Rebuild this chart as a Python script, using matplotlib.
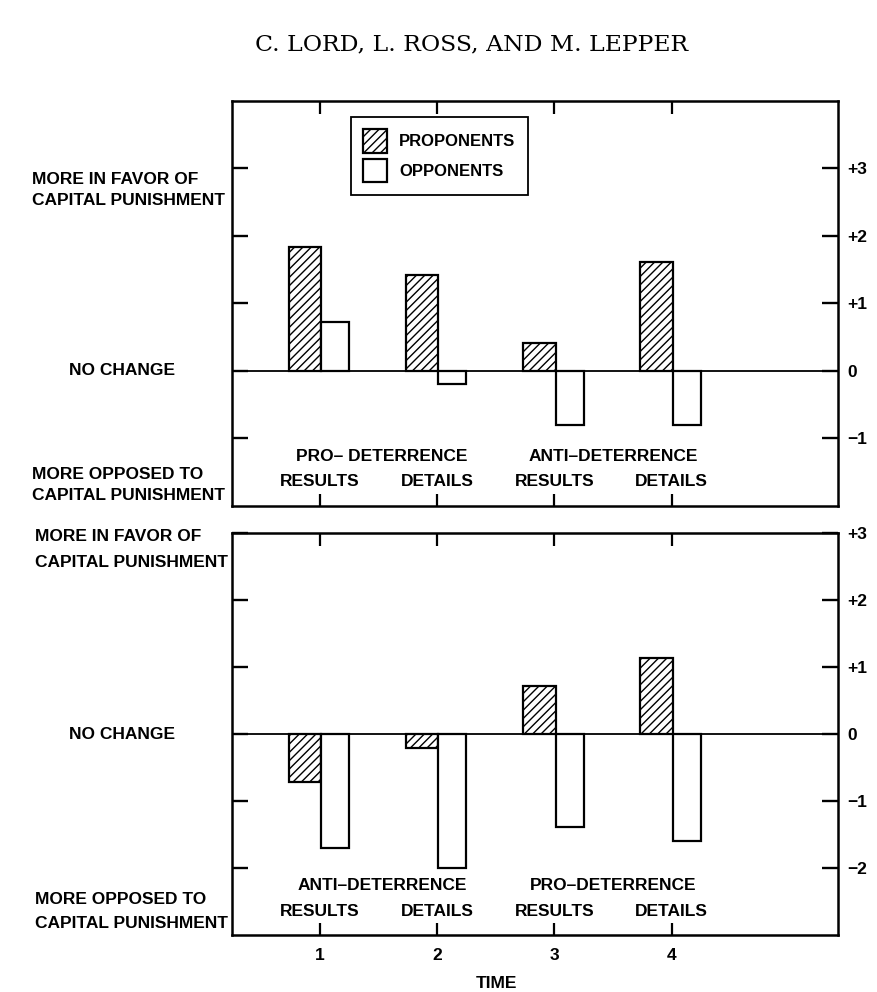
import matplotlib
matplotlib.use("Agg")
import matplotlib.pyplot as plt
import matplotlib.transforms as mtransforms
import numpy as np

plt.rcParams['font.family'] = ['Liberation Sans', 'DejaVu Sans']
plt.rcParams['font.weight'] = 'bold'
plt.rcParams['hatch.linewidth'] = 1.0

# data (attitude change, scale units)
time = [1, 2, 3, 4]
top_proponents = [1.83, 1.42, 0.41, 1.61]
top_opponents = [0.73, -0.20, -0.80, -0.80]
bottom_proponents = [-0.72, -0.21, 0.72, 1.13]
bottom_opponents = [-1.70, -2.00, -1.39, -1.59]

top_yticks = [-1, 0, 1, 2, 3]
bottom_yticks = [-2, -1, 0, 1, 2, 3]
top_groups = ["PRO\u2013 DETERRENCE", "ANTI\u2013DETERRENCE"]
bottom_groups = ["ANTI\u2013DETERRENCE", "PRO\u2013DETERRENCE"]
stage_labels = ["RESULTS", "DETAILS", "RESULTS", "DETAILS"]


def fmt(v):
    if v > 0:
        return "+%d" % v
    if v < 0:
        return "\u2212%d" % abs(v)
    return "0"


W, H = 878, 992
fig = plt.figure(figsize=(W / 100, H / 100), dpi=100)

ax1 = fig.add_axes([232 / W, 1 - 506 / H, (838 - 232) / W, (506 - 100.7) / H])
ax2 = fig.add_axes([232 / W, 1 - 935 / H, (838 - 232) / W, (935 - 533.3) / H])

x = np.array(time)
bw_p, bw_o = 0.275, 0.24


def draw_panel(ax, prop, opp, ylim, yticks, groups, grp_y, stage_y):
    ax.bar(x - 0.265, prop, width=bw_p, align='edge', facecolor='white',
           edgecolor='black', linewidth=1.6, hatch='////', label='PROPONENTS')
    ax.bar(x + 0.01, opp, width=bw_o, align='edge', facecolor='white',
           edgecolor='black', linewidth=1.6, label='OPPONENTS')
    ax.axhline(0, color='black', lw=1.3, zorder=0.5)
    ax.set_xlim(0.25, 5.42)
    ax.set_ylim(*ylim)
    ax.set_xticks(time)
    ax.set_yticks(yticks)
    ax.set_yticklabels([fmt(v) for v in yticks])
    for s in ax.spines.values():
        s.set_linewidth(1.8)
    ax.tick_params(axis='y', direction='in', left=True, right=True,
                   labelleft=False, labelright=True, length=11.5, width=1.7,
                   labelsize=12.5, pad=7)
    ax.tick_params(axis='x', direction='in', top=True, bottom=True,
                   length=9, width=1.6, labelsize=12.5, pad=9)
    ax.text(1.53, grp_y, groups[0], ha='center', va='center', fontsize=12.5)
    ax.text(3.5, grp_y, groups[1], ha='center', va='center', fontsize=12.5)
    for t, lab in zip(time, stage_labels):
        ax.text(t, stage_y, lab, ha='center', va='center', fontsize=12.5)
    # x in figure coords, y in data coords for the side descriptions
    return mtransforms.blended_transform_factory(fig.transFigure, ax.transData)


tr1 = draw_panel(ax1, top_proponents, top_opponents, (-2, 4), top_yticks,
                 top_groups, -1.26, -1.64)
ax1.tick_params(axis='x', labelbottom=False)
ax1.text(32 / W, 2.68, "MORE IN FAVOR OF\nCAPITAL PUNISHMENT", transform=tr1,
         ha='left', va='center', fontsize=12.5, linespacing=1.5)
ax1.text(122 / W, 0, "NO CHANGE", transform=tr1, ha='center', va='center',
         fontsize=12.5)
ax1.text(32 / W, -1.69, "MORE OPPOSED TO\nCAPITAL PUNISHMENT", transform=tr1,
         ha='left', va='center', fontsize=12.5, linespacing=1.5)

tr2 = draw_panel(ax2, bottom_proponents, bottom_opponents, (-3, 3),
                 bottom_yticks, bottom_groups, -2.26, -2.65)
ax2.text(35 / W, 2.76, "MORE IN FAVOR OF\nCAPITAL PUNISHMENT", transform=tr2,
         ha='left', va='center', fontsize=12.5, linespacing=1.9)
ax2.text(122 / W, 0, "NO CHANGE", transform=tr2, ha='center', va='center',
         fontsize=12.5)
ax2.text(35 / W, -2.65, "MORE OPPOSED TO\nCAPITAL PUNISHMENT", transform=tr2,
         ha='left', va='center', fontsize=12.5, linespacing=1.75)

tr_time = mtransforms.blended_transform_factory(ax2.transData, fig.transFigure)
ax2.text(2.51, 1 - 983 / H, "TIME", transform=tr_time, ha='center',
         va='center', fontsize=12.5)

leg = ax1.legend(loc='upper left', bbox_to_anchor=(351 / W, 1 - 117 / H),
                 bbox_transform=fig.transFigure, borderaxespad=0,
                 fancybox=False, edgecolor='black', framealpha=1,
                 fontsize=12, handlelength=1.4, handleheight=1.75,
                 handletextpad=0.75, labelspacing=0.4, borderpad=0.75)
leg.get_frame().set_linewidth(1.3)

fig.text(472 / W, 1 - 44.7 / H, "C. LORD, L. ROSS, AND M. LEPPER",
         family='DejaVu Serif', fontweight='normal', fontsize=16.9,
         ha='center', va='center')

fig.savefig("out.png", dpi=100)
